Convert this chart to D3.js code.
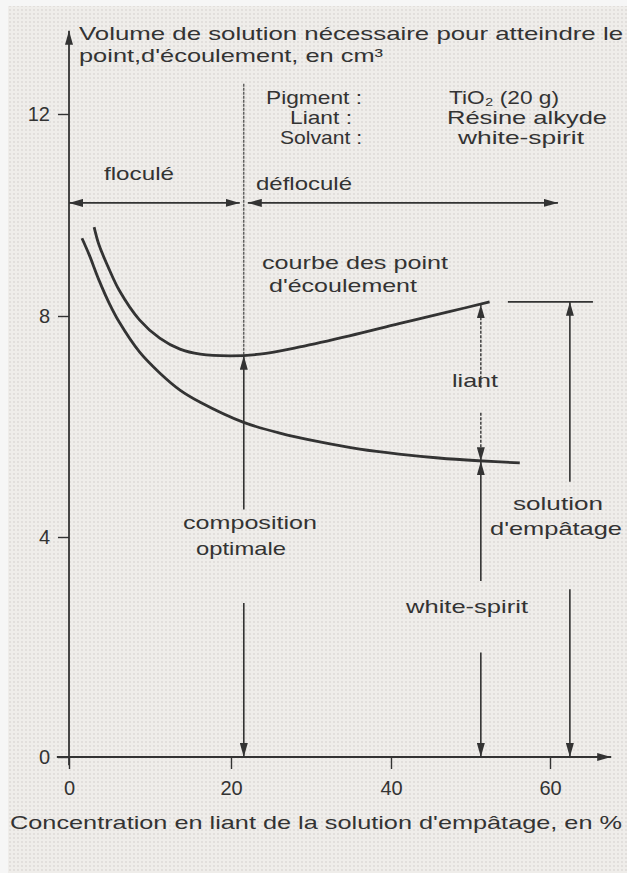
<!DOCTYPE html>
<head>
<meta charset="utf-8">
<script src="https://d3js.org/d3.v7.min.js"></script>
<style>
    body { margin:0; background:#f6f6f6; }
    text { font-family:"Liberation Sans", "DejaVu Sans", Arial, sans-serif; fill:#333; }
</style>
</head>
<body>
<script>
    // values
    var xTicks = [0, 20, 40, 60];
    var yTicks = [0, 4, 8, 12];
    // courbe des points d'écoulement (solution d'empâtage)
    var upperCurve = [[3.1,9.76],[3.7,9.41],[5.0,8.91],[6.2,8.51],[8.7,7.93],[11.2,7.60],[13.7,7.40],
        [16.2,7.31],[19.9,7.28],[23.6,7.31],[28.6,7.44],[34.8,7.64],[41.0,7.86],[47.2,8.08],[52.4,8.28]];
    // part white-spirit
    var lowerCurve = [[1.6,9.54],[2.5,9.21],[3.7,8.71],[5.0,8.24],[6.2,7.89],[8.7,7.35],[11.2,6.97],
        [13.7,6.66],[16.2,6.44],[21.5,6.08],[26.1,5.88],[31.1,5.72],[36.1,5.59],[41.0,5.50],[46.0,5.43],
        [51.0,5.38],[56.2,5.34]];
    var optimum = 21.6;       // composition optimale
    var liantX = 51.3;        // liant / white-spirit
    var solutionX = 62.5;     // solution d'empâtage
    var topLevel = 8.28;      // volume total au point d'écoulement
    var topLine = [54.7, 65.4];
    var stateLevel = 10.24;   // flèches floculé / défloculé
    var deflocEnd = 61;

    var W = 627, H = 873;
    var svg = d3.select("body").append("svg")
        .attr("width", W).attr("height", H);

    var defs = svg.append("defs");
    var pat = defs.append("pattern").attr("id", "paper")
        .attr("width", 4).attr("height", 4).attr("patternUnits", "userSpaceOnUse");
    pat.append("rect").attr("width", 4).attr("height", 4).attr("fill", "#efedea");
    pat.append("circle").attr("cx", 2).attr("cy", 2).attr("r", 0.9).attr("fill", "#dcd8d6");

    svg.append("rect").attr("x", 8).attr("y", 6).attr("width", W - 8).attr("height", H - 6)
        .attr("fill", "url(#paper)");

    var x = d3.scaleLinear().domain([0, 20, 40, 60]).range([69, 231, 391, 550]);
    var y = d3.scaleLinear().domain([0, 4, 8, 12]).range([757, 537, 316, 114]);

    defs.append("marker").attr("id", "arr")
        .attr("viewBox", "0 0 14 8").attr("refX", 14).attr("refY", 4)
        .attr("markerWidth", 14).attr("markerHeight", 8)
        .attr("markerUnits", "userSpaceOnUse").attr("orient", "auto-start-reverse")
        .append("path").attr("d", "M0,0 L14,4 L0,8 Z").attr("fill", "#333");

    function seg(x1, y1, x2, y2, startArrow, endArrow, w, dash) {
        var l = svg.append("line")
            .attr("x1", x(x1)).attr("y1", y(y1)).attr("x2", x(x2)).attr("y2", y(y2))
            .attr("stroke", "#333").attr("stroke-width", w || 1.6);
        if (startArrow) l.attr("marker-start", "url(#arr)");
        if (endArrow) l.attr("marker-end", "url(#arr)");
        if (dash) l.attr("stroke-dasharray", dash);
        return l;
    }

    // text stretched to the width it has in the scan
    function label(str, cx, cy, width, anchor, size) {
        var t = svg.append("text").attr("x", cx).attr("y", cy)
            .attr("text-anchor", anchor || "middle")
            .attr("font-size", size || 19).text(str);
        if (width) t.attr("textLength", width).attr("lengthAdjust", "spacingAndGlyphs");
        return t;
    }

    // axes
    var yAxis = svg.append("g").attr("transform", "translate(" + x(0) + ",0)")
        .call(d3.axisLeft(y).tickValues(yTicks).tickSize(11).tickPadding(8));
    var xAxis = svg.append("g").attr("transform", "translate(0," + y(0) + ")")
        .call(d3.axisBottom(x).tickValues(xTicks).tickSize(12).tickPadding(12));
    [yAxis, xAxis].forEach(function(g) {
        g.select(".domain").remove();
        g.selectAll("line").attr("stroke", "#333").attr("stroke-width", 1.4);
        g.selectAll("text").attr("font-size", 20).attr("fill", "#333")
            .attr("font-family", "Liberation Sans, Arial, sans-serif");
    });
    seg(0, -0.15, 0, 13.65, false, true, 1.8);
    seg(-1.5, 0, 67.7, 0, false, true, 1.8);

    // curves
    var line = d3.line().x(function(d) { return x(d[0]); }).y(function(d) { return y(d[1]); })
        .curve(d3.curveCatmullRom);
    [upperCurve, lowerCurve].forEach(function(c) {
        svg.append("path").attr("d", line(c)).attr("fill", "none")
            .attr("stroke", "#333").attr("stroke-width", 2.8);
    });

    // composition optimale
    seg(optimum, 12.6, optimum, 7.28, false, false, 1.1, "3,1");
    seg(optimum, 4.5, optimum, 7.28, false, true, 1.6);
    seg(optimum, 2.8, optimum, 0, false, true, 1.6);

    // floculé / défloculé
    seg(0, stateLevel, optimum - 0.5, stateLevel, true, true, 1.6);
    seg(optimum + 0.5, stateLevel, deflocEnd, stateLevel, true, true, 1.6);

    // liant / white-spirit
    seg(liantX, 6.7, liantX, topLevel - 0.05, false, true, 1.4, "3,1.5");
    seg(liantX, 6.25, liantX, 5.37, false, true, 1.4, "3,1.5");
    seg(liantX, 3.2, liantX, 5.37, false, true, 1.6);
    seg(liantX, 1.9, liantX, 0, false, true, 1.6);

    // solution d'empâtage
    seg(topLine[0], topLevel, topLine[1], topLevel, false, false, 1.6);
    seg(solutionX, 5.0, solutionX, topLevel, false, true, 1.6);
    seg(solutionX, 3.05, solutionX, 0, false, true, 1.6);

    // texts
    label("Volume de solution nécessaire pour atteindre le", 79, 40, 544, "start", 19);
    label("point,d'écoulement, en cm³", 79, 62, 304, "start", 19);

    label("Pigment :", 314, 104, 96);
    label("Liant :", 321, 124, 62);
    label("Solvant :", 321, 144, 82);
    label("TiO₂ (20 g)", 504, 104, 110);
    label("Résine alkyde", 527, 124, 160);
    label("white-spirit", 521, 144, 126);

    label("floculé", 139, 180, 70);
    label("défloculé", 304, 190, 96);
    label("courbe des point", 355, 269, 186);
    label("d'écoulement", 343, 292, 148);
    label("liant", 475, 387, 46);
    label("solution", 558, 510, 90);
    label("d'empâtage", 556, 535, 132);
    label("composition", 250, 529, 134);
    label("optimale", 241, 555, 90);
    label("white-spirit", 467, 613, 122);

    label("Concentration en liant de la solution d'empâtage, en %", 10, 829, 612, "start", 19);
</script>
</body>
